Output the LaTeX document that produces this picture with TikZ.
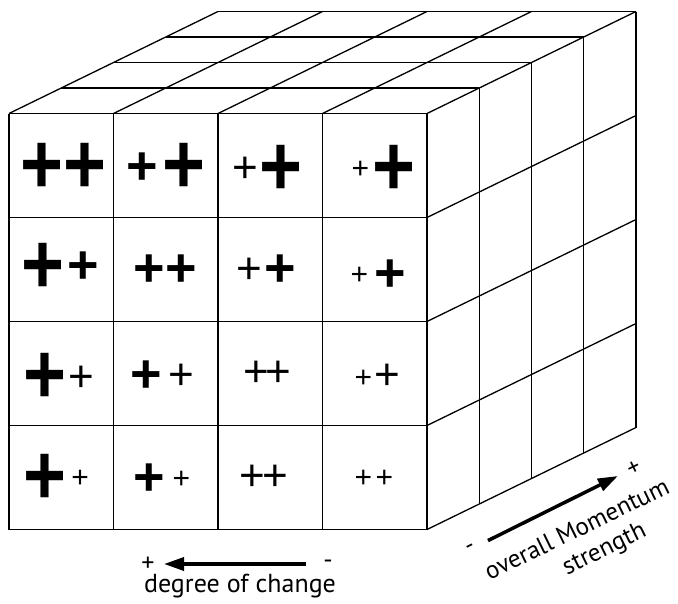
\documentclass[tikz,border=0pt]{standalone}
\usepackage{fontspec}
\setmainfont{PT Sans}
\newfontfamily\plusfont{Liberation Sans}
\usetikzlibrary{arrows.meta,positioning,calc}
% plus marks, centred on the math axis
\newcommand{\plL}{$\vcenter{\hbox{\scalebox{0.92}[1.07]{\plusfont\bfseries\fontsize{80}{80}\selectfont+}}}$}
\newcommand{\plM}{$\vcenter{\hbox{\plusfont\bfseries\fontsize{54}{54}\selectfont+}}$}
\newcommand{\plT}{$\vcenter{\hbox{\plusfont\fontsize{44}{44}\selectfont+}}$}
\newcommand{\plS}{$\vcenter{\hbox{\plusfont\fontsize{30}{30}\selectfont+}}$}

\begin{document}
\begin{tikzpicture}[x=1pt,y=-1pt,
  grid/.style={line width=1.3pt,line join=round},
  cell/.style={anchor=west,inner sep=0pt},
  lab/.style={inner sep=1pt,font=\fontsize{26}{30}\selectfont},
  mlab/.style={lab,rotate=26,font=\fontsize{25}{29}\selectfont},
  axisarrow/.style={line width=3.5pt,-{Triangle[length=20pt,width=13pt]}}]
\useasboundingbox (0,0) rectangle (678,603);
% front face
\foreach \i in {0,...,4} {
  \draw[grid] (9+104.5*\i,113.5) -- (9+104.5*\i,529.5);
  \draw[grid] (9,113.5+104*\i) -- (427,113.5+104*\i);
}
% top face
\foreach \k in {1,...,4}
  \draw[grid] (9+52.25*\k,113.5-25.5*\k) -- (427+52.25*\k,113.5-25.5*\k);
\foreach \i in {0,...,4}
  \draw[grid] (9+104.5*\i,113.5) -- ++(209,-102);
% right face
\foreach \k in {1,...,4}
  \draw[grid] (427+52.25*\k,113.5-25.5*\k) -- ++(0,416);
\foreach \j in {1,...,4}
  \draw[grid] (427,113.5+104*\j) -- ++(209,-102);

% row 1
\node[cell] (c11) at (20.5,168) {\plL\plL};
\node[cell] (c12) at (126.3,168.5) {\plM\kern4.7pt\plL};
\node[cell] (c13) at (232.2,170) {\plT\kern1.6pt\plL};
\node[cell] (c14) at (351.3,170) {\plS\kern3.7pt\plL};
% row 2
\node[cell] (c21) at (21.5,268) {\plL\kern2.7pt\plM};
\node[cell] (c22) at (133.3,271) {\plM\kern0.5pt\plM};
\node[cell] (c23) at (236.2,271) {\plT\kern2.4pt\plM};
\node[cell] (c24) at (350.3,276) {\plS\kern6.5pt\plM};
% row 3
\node[cell] (c31) at (23,378.5) {\plL\kern2.1pt\plT};
\node[cell] (c32) at (130.3,377) {\plM\kern6.4pt\plT};
\node[cell] (c33) at (243.2,374) {\plT\kern-3.7pt\plT};
\node[cell] (c34) at (354.3,377) {\raisebox{-2pt}{\plS}\kern2.4pt\plT};
% row 4
\node[cell] (c41) at (23,479) {\plL\kern5.2pt\plS};
\node[cell] (c42) at (133.3,479.5) {\plM\kern7.5pt\plS};
\node[cell] (c43) at (239.7,477.5) {\plT\kern-3.2pt\plT};
\node[cell] (c44) at (354.3,479) {\plS\kern3.5pt\plS};

% degree of change
\node[lab] (cplus) at (148,564) {+};
\node[lab] (cminus) at (328,564) {-};
\draw[axisarrow,shorten <=22pt,shorten >=16pt] (cminus.center) -- (cplus.center);
\node[lab] (clabel) at (240,586) {degree of change};

% overall momentum strength
\node[mlab] (mminus) at (471,549) {-};
\node[mlab] (mplus) at (634,468) {+};
\draw[axisarrow,shorten <=19pt,shorten >=18pt] (mminus.center) -- (mplus.center);
\node[mlab,align=center] (mlabel) at (584,544)
  {overall Momentum\\\hspace*{32pt}strength};
\end{tikzpicture}
\end{document}
